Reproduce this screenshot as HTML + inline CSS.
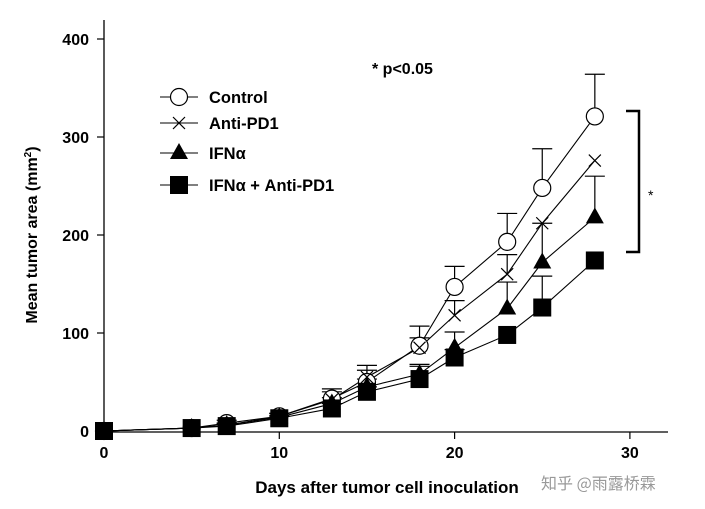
<!DOCTYPE html>
<html><head><meta charset="utf-8"><style>
html,body{margin:0;padding:0;background:#fff}
svg{display:block;font-family:"Liberation Sans",Arial,sans-serif}
</style></head><body>
<svg width="705" height="509" viewBox="0 0 705 509" id="chart">
<g id="axes"></g>
<g id="series"></g>
<g id="legend"></g>
<text x="372" y="74" font-size="16" font-weight="bold">* p&lt;0.05</text>
<path d="M626 111 H639 V252 H626" fill="none" stroke="#000" stroke-width="2.5"/>
<text x="648" y="200" font-size="14">*</text>
<text x="387" y="493" font-size="17" font-weight="bold" text-anchor="middle">Days after tumor cell  inoculation</text>
<text transform="translate(37,235) rotate(-90)" font-size="16" font-weight="bold" text-anchor="middle">Mean tumor area (mm<tspan font-size="10" dy="-6">2</tspan><tspan dy="6">)</tspan></text>
<text x="541" y="489" font-size="16" fill="#999" font-family="'Noto Sans CJK SC',sans-serif">知乎 @雨露桥霖</text>
</svg>
<script>
const days = [0,5,7,10,13,15,18,20,23,25,28];
const controlVals = [0,3,8,15,33,50,87,147,193,248,321];
const antiVals = [0,3,6,15,32,55,85,118,160,212,276];
const ifnVals = [0,3,6,14,28,45,58,85,125,172,218];
const comboVals = [0,3,5,13,23,40,53,75,98,126,174];
const controlErr = [0,0,3,3,10,12,20,21,29,40,43];
const antiErr = [0,0,2,3,8,12,10,15,20,0,0];
const ifnErr = [0,0,2,2,6,8,8,16,27,40,42];
const comboErr = [0,0,2,2,5,5,15,8,0,32,0];
const xTicks = [0,10,20,30];
const yTicks = [0,100,200,300,400];
const legendLabels = ["Control","Anti-PD1","IFNα","IFNα + Anti-PD1"];

const NS="http://www.w3.org/2000/svg";
const X=d=>104+d*17.53;
const Y=v=>431-v*0.98;
function mk(tag,attrs,parent){const e=document.createElementNS(NS,tag);for(const k in attrs)e.setAttribute(k,attrs[k]);parent.appendChild(e);return e;}
const axes=document.getElementById('axes');
let a=mk('line',{x1:104,y1:20,x2:104,y2:432,stroke:'#000','stroke-width':1.3},axes);


a=mk('line',{x1:104,y1:432,x2:668,y2:432,stroke:'#000','stroke-width':1.3},axes);


yTicks.forEach(v=>{
  const t=mk('line',{x1:97,y1:Y(v),x2:104,y2:Y(v),stroke:'#000','stroke-width':1.2},axes);
  
  
  const l=mk('text',{x:89,y:Y(v)+6,'font-size':16,'font-weight':'bold','text-anchor':'end'},axes);
  l.textContent=v;
  
  
});
xTicks.forEach(d=>{
  const t=mk('line',{x1:X(d),y1:432,x2:X(d),y2:439,stroke:'#000','stroke-width':1.2},axes);
  
  
  const l=mk('text',{x:X(d),y:458,'font-size':16,'font-weight':'bold','text-anchor':'middle'},axes);
  l.textContent=d;
  
  
});
function marker(type,x,y,g){
  let m;
  if(type==='circle')m=mk('circle',{cx:x,cy:y,r:8.5,fill:'#fff',stroke:'#000','stroke-width':1.2},g);
  else if(type==='x'){m=mk('path',{d:`M${x-6} ${y-6}L${x+6} ${y+6}M${x+6} ${y-6}L${x-6} ${y+6}`,stroke:'#000','stroke-width':1.2,fill:'none'},g);}
  else if(type==='tri')m=mk('path',{d:`M${x} ${y-10}L${x+9} ${y+6}L${x-9} ${y+6}Z`,fill:'#000'},g);
  else m=mk('rect',{x:x-9,y:y-9,width:18,height:18,fill:'#000'},g);
  return m;
}
const seriesDefs=[
 {name:'control',vals:controlVals,err:controlErr,type:'circle'},
 {name:'anti-pd1',vals:antiVals,err:antiErr,type:'x'},
 {name:'ifn',vals:ifnVals,err:ifnErr,type:'tri'},
 {name:'ifn-anti-pd1',vals:comboVals,err:comboErr,type:'square'}];
const sg=document.getElementById('series');
seriesDefs.slice().reverse().forEach(s=>{
  const g=mk('g',{},sg);
  
  
  s.vals.forEach((v,i)=>{
    if(s.err[i]>0){
      const e=mk('path',{d:`M${X(days[i])} ${Y(v)}V${Y(v+s.err[i])}M${X(days[i])-10} ${Y(v+s.err[i])}H${X(days[i])+10}`,stroke:'#000','stroke-width':1.2,fill:'none'},g);
      
      
    }
  });
  const ln=mk('polyline',{points:s.vals.map((v,i)=>X(days[i])+','+Y(v)).join(' '),fill:'none',stroke:'#000','stroke-width':1.1},g);
  
  
});
seriesDefs.forEach(s=>{
  s.vals.forEach((v,i)=>{
    const m=marker(s.type,X(days[i]),Y(v),sg);
    
    
  });
});
const lg=document.getElementById('legend');
const rows=[97,123,153,185];
seriesDefs.forEach((s,i)=>{
  const g=mk('g',{},lg);
  
  
  mk('line',{x1:160,y1:rows[i],x2:198,y2:rows[i],stroke:'#000','stroke-width':1.1},g);
  marker(s.type,179,rows[i],g);
  const t=mk('text',{x:209,y:rows[i]+6,'font-size':16.5,'font-weight':'bold'},g);
  t.textContent=legendLabels[i];
});
</script>
</body></html>
